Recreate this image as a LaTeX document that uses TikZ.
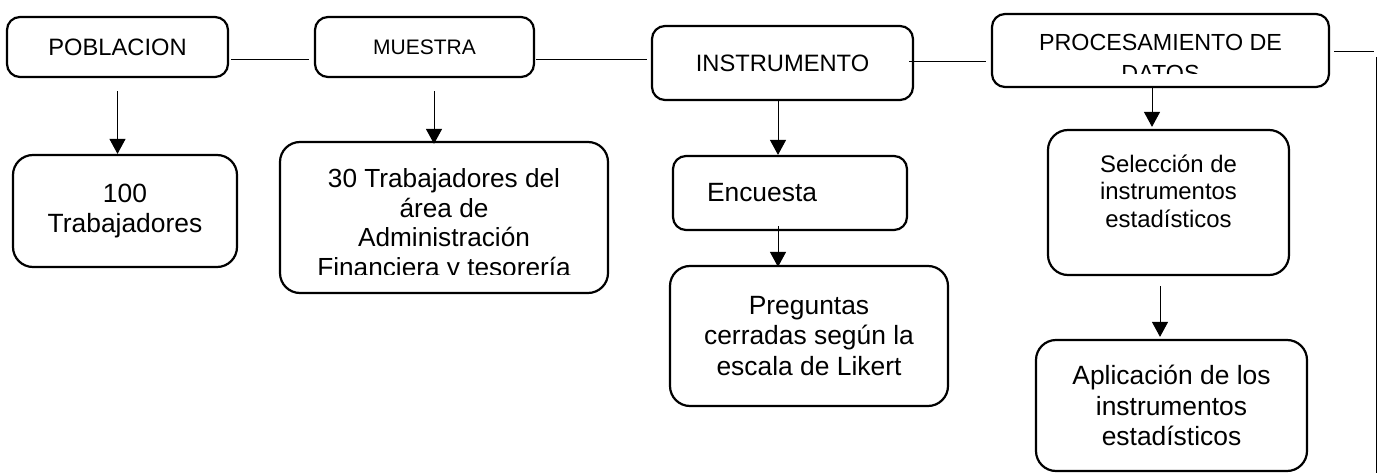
\documentclass[tikz,border=0pt]{standalone}
\usepackage{fontspec}
\setmainfont{Liberation Sans}
\usepackage{tikz}
\usetikzlibrary{arrows.meta,calc}

\newcommand{\fuenteA}{\fontsize{23.7pt}{27.3pt}\selectfont}
\newcommand{\fuenteB}{\fontsize{26.4pt}{30.5pt}\selectfont}
\newcommand{\fuenteC}{\fontsize{21pt}{24pt}\selectfont}
\newcommand{\fuenteD}{\fontsize{23.9pt}{27.5pt}\selectfont}

\tikzset{
  caja/.style={draw, line width=2.2pt, rounded corners=13pt, inner sep=0pt, align=center},
  cajagrande/.style={caja, rounded corners=20pt},
  texto/.style={inner sep=0pt, align=center},
  linea/.style={line width=1pt},
  flecha/.style={line width=1pt, -{Triangle[width=16pt,length=15pt]}}
}

\begin{document}
\begin{tikzpicture}[x=1pt,y=-1pt]
\useasboundingbox (0,0) rectangle (1386,473);

\node[caja, minimum width=221pt, minimum height=60pt, font=\fuenteA] (poblacion) at (117.5,47) {POBLACION};
\node[caja, minimum width=219pt, minimum height=60pt, font=\fuenteC] (muestra) at (424.5,47) {MUESTRA};
\node[caja, minimum width=261pt, minimum height=74pt, font=\fuenteA] (instrumento) at (782.5,63) {INSTRUMENTO};
\node[caja, minimum width=337pt, minimum height=73pt] (procesamiento) at (1160.5,50.5) {};
\begin{scope}
  \clip (994,16) rectangle (1327,73.3);
  \node[texto, font=\fontsize{23.3pt}{31pt}\selectfont] (procTexto) at (1160.5,58) {PROCESAMIENTO DE\\DATOS};
\end{scope}

\node[cajagrande, minimum width=224pt, minimum height=112pt, font=\fuenteB] (trab100) at (125,211) {100\\Trabajadores};
\node[cajagrande, minimum width=328pt, minimum height=151pt] (trab30) at (444,217.5) {};
\begin{scope}
  \clip (282,144) rectangle (606,274);
  \node[texto, font=\fontsize{26.2pt}{29.5pt}\selectfont] (trab30Texto) at (444,225) {30 Trabajadores del\\área de\\Administración\\Financiera y tesorería};
\end{scope}
\node[caja, minimum width=234pt, minimum height=74pt, text width=166pt, align=left, font=\fuenteB] (encuesta) at (790,193) {Encuesta};
\node[cajagrande, minimum width=278pt, minimum height=140pt, font=\fuenteB] (preguntas) at (809,336) {Preguntas\\cerradas según la\\escala de Likert};
\node[cajagrande, minimum width=241pt, minimum height=145pt] (seleccion) at (1168.5,202.5) {};
\node[texto, font=\fuenteD] (seleccionTexto) at (1168.5,191) {Selección de\\instrumentos\\estadísticos};
\node[cajagrande, minimum width=271pt, minimum height=131pt, font=\fuenteB] (aplicacion) at (1171.5,405.5) {Aplicación de los\\instrumentos\\estadísticos};

\draw[linea] ($(poblacion.east)+(2,13)$) -- ($(muestra.west)+(-5,13)$);
\draw[linea] ($(muestra.east)+(1,13)$) -- ($(instrumento.west)+(-4,-3)$);
\draw[linea] ($(instrumento.east)+(-5,-1)$) -- ($(procesamiento.west)+(-5,11.5)$);
\coordinate (finA) at (1374,52);
\coordinate (finB) at (1376.5,57);
\coordinate (finC) at (1376.5,474);
\draw[linea] ($(procesamiento.east)+(4,1.5)$) -- (finA);
\draw[linea] (finB) -- (finC);

\draw[flecha] ($(poblacion.south)+(0,13)$) -- (poblacion.south |- trab100.north);
\draw[flecha] ($(muestra.south)+(9.5,13)$) -- ($(muestra.south |- trab30.north)+(9.5,3)$);
\draw[flecha] ($(instrumento.south)+(-4.5,0)$) -- ($(instrumento.south |- encuesta.north)+(-4.5,0)$);
\draw[flecha] ($(encuesta.south)+(-12,-5)$) -- ($(encuesta.south |- preguntas.north)+(-12,2)$);
\draw[flecha] ($(procesamiento.south)+(-8.5,0)$) -- ($(procesamiento.south |- seleccion.north)+(-8.5,-2)$);
\draw[flecha] ($(seleccion.south)+(-8.5,10)$) -- ($(seleccion.south |- aplicacion.north)+(-8.5,-2)$);

\end{tikzpicture}
\end{document}
